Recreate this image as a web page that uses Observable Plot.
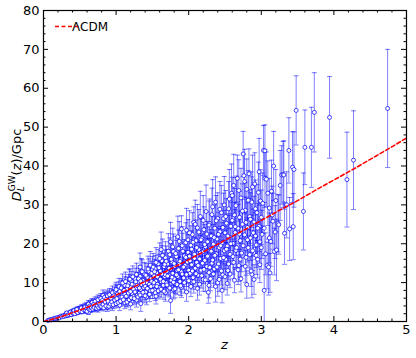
<!DOCTYPE html>
<html><head><meta charset="utf-8">
<script src="https://cdn.jsdelivr.net/npm/d3@7"></script>
<script src="https://cdn.jsdelivr.net/npm/@observablehq/plot@0.6"></script>
<style>body{margin:0;background:#fff;} #chart{width:416px;height:358px;}</style>
</head><body><div id="chart"></div>
<script>
// ΛCDM curve
const lcdmZ = [0,0.1,0.25,0.5,0.75,1,1.25,1.5,1.75,2,2.25,2.5,2.75,3,3.25,3.5,3.75,4,4.25,4.5,4.75,5];
const lcdmD = [0,0.46,1.32,2.92,4.76,6.79,8.95,11.2,13.5,15.9,18.4,20.9,23.4,26.0,28.6,31.1,33.8,36.4,39.0,41.7,44.4,47.2];
// simulated GW events: [z, D_L (Gpc), sigma (Gpc)]
const gwEvents = [
[0.06,0.28,0.05],[0.08,0.4,0.07],[0.1,0.5,0.08],[0.11,0.42,0.08],[0.13,0.66,0.12],[0.15,0.7,0.12],[0.16,0.85,0.15],[0.18,0.78,0.14],[0.19,1.0,0.18],[0.21,1.05,0.2],[0.22,0.95,0.18],[0.24,1.4,0.25],[0.25,1.2,0.22],[0.27,1.5,0.28],[0.28,1.3,0.25],[0.3,1.75,0.32],[0.31,1.45,0.3],[0.32,1.9,0.35],[0.34,1.6,0.3],[0.35,2.1,0.4],[0.36,1.7,0.35],[0.38,2.3,0.45],[0.39,1.9,0.4],[0.4,2.6,0.5],[0.41,2.0,0.4],[0.43,2.4,0.5],[0.44,2.9,0.55],[0.45,2.2,0.45],[0.47,2.7,0.55],[0.48,3.2,0.6],[0.49,2.5,0.5],
[0.5,3.3,0.6],[0.51,2.6,0.5],[0.52,3.0,0.6],[0.53,3.6,0.7],[0.54,2.8,0.55],[0.55,3.4,0.7],[0.56,2.9,0.6],[0.57,3.9,0.8],[0.58,3.2,0.65],[0.59,3.6,0.7],[0.6,4.1,0.8],[0.61,3.0,0.6],[0.62,3.5,0.7],[0.63,4.3,0.9],[0.64,3.3,0.7],[0.65,3.9,0.8],[0.66,4.6,1.0],[0.67,3.6,0.75],[0.68,4.2,0.9],[0.69,3.4,0.7],[0.7,4.8,1.0],[0.71,4.0,0.85],[0.72,3.7,0.8],[0.73,4.5,0.95],[0.74,5.2,1.1],[0.75,4.1,0.9],[0.76,4.8,1.0],[0.77,3.9,0.85],[0.78,5.5,1.2],[0.79,4.5,1.0],[0.8,5.0,1.1],[0.81,4.2,0.9],[0.82,5.8,1.3],[0.83,4.7,1.0],[0.84,5.3,1.2],[0.85,4.4,1.0],[0.86,6.1,1.4],[0.87,5.0,1.1],[0.88,5.6,1.2],[0.89,4.6,1.0],[0.9,6.4,1.4],[0.91,5.3,1.2],[0.92,5.9,1.3],[0.93,4.9,1.1],[0.94,6.8,1.5],[0.95,5.6,1.3],[0.96,6.2,1.4],[0.97,5.1,1.2],[0.98,7.2,1.6],[0.99,6.0,1.4],
[0.62,2.4,0.6],[0.75,3.2,0.8],[0.88,3.7,1.1],[0.95,4.0,1.2],[0.82,6.7,1.4],
[1.0,6.5,1.5],[1.01,7.6,1.7],[1.02,5.4,1.3],[1.03,6.9,1.6],[1.04,8.3,1.9],[1.05,6.1,1.4],[1.06,7.4,1.7],[1.07,5.7,1.4],[1.08,8.9,2.1],[1.09,6.7,1.6],[1.1,7.9,1.8],[1.11,6.2,1.5],[1.12,9.3,2.2],[1.13,7.1,1.7],[1.14,5.3,1.4],[1.15,8.4,2.0],[1.16,6.6,1.6],[1.17,9.8,2.3],[1.18,7.6,1.8],[1.19,6.0,1.5],[1.2,8.8,2.1],[1.21,10.4,2.5],[1.22,7.2,1.8],[1.23,8.1,2.0],[1.24,6.4,1.6],[1.25,9.6,2.3],[1.26,11.0,2.7],[1.27,7.7,1.9],[1.28,8.6,2.1],[1.29,6.8,1.7],[1.3,10.1,2.5],[1.31,9.0,2.2],[1.32,7.3,1.8],[1.33,11.6,2.8],[1.34,8.2,2.0],[1.35,9.5,2.3],[1.36,6.9,1.8],[1.37,10.6,2.6],[1.38,8.7,2.2],[1.39,12.2,3.0],[1.4,9.1,2.3],[1.41,7.6,1.9],[1.42,10.0,2.5],[1.43,11.4,2.8],[1.44,8.4,2.1],[1.45,12.9,3.2],[1.46,9.6,2.4],[1.47,7.9,2.0],[1.48,11.0,2.7],[1.49,10.3,2.6],[1.5,13.4,3.3],
[1.05,4.2,1.4],[1.18,10.9,2.6],[1.28,5.5,1.8],[1.35,13.0,3.2],[1.42,6.3,2.0],[1.12,4.8,1.5],[1.47,14.5,3.5],[1.33,14.0,3.6],[1.2,4.5,1.5],[1.34,4.6,2.0],
[1.51,9.2,2.3],[1.52,11.8,3.0],[1.53,8.1,2.1],[1.54,13.6,3.4],[1.55,10.4,2.6],[1.56,12.5,3.1],[1.57,9.6,2.4],[1.58,14.8,3.7],[1.59,11.1,2.8],[1.6,8.7,2.3],[1.61,13.0,3.3],[1.62,10.2,2.6],[1.63,15.6,3.9],[1.64,12.0,3.0],[1.65,9.3,2.4],[1.66,14.1,3.5],[1.67,11.5,2.9],[1.68,16.4,4.1],[1.69,10.0,2.6],[1.7,12.9,3.2],[1.71,14.8,3.7],[1.72,9.0,2.4],[1.73,11.9,3.0],[1.74,17.2,4.3],[1.75,13.5,3.4],[1.76,10.6,2.7],[1.77,15.3,3.8],[1.78,12.4,3.1],[1.79,18.0,4.5],[1.8,11.0,2.8],[1.81,14.2,3.6],[1.82,9.7,2.5],[1.83,16.7,4.2],[1.84,13.1,3.3],[1.85,11.6,3.0],[1.86,18.8,4.7],[1.87,14.7,3.7],[1.88,10.3,2.7],[1.89,15.9,4.0],[1.9,12.8,3.2],[1.91,19.5,4.9],[1.92,13.8,3.5],[1.93,11.2,2.9],[1.94,16.9,4.2],[1.95,14.5,3.7],[1.96,20.3,5.1],[1.97,12.1,3.1],[1.98,15.3,3.9],[1.99,17.8,4.5],[2.0,13.2,3.4],
[1.55,6.5,2.0],[1.68,7.4,2.2],[1.79,8.2,2.4],[1.9,8.8,2.6],[1.62,18.5,4.5],[1.75,20.5,5.0],[1.85,21.8,5.3],[1.97,23.5,5.6],[1.75,5.4,3.3],[1.9,23.8,3.4],
[2.01,16.8,4.3],[2.02,12.4,3.3],[2.03,19.6,5.0],[2.04,14.6,3.8],[2.05,22.4,5.6],[2.06,11.3,3.0],[2.07,25.5,4.0],[2.08,17.3,4.4],[2.09,13.7,3.6],[2.1,20.8,5.3],[2.11,15.2,3.9],[2.12,24.1,6.0],[2.13,11.9,3.2],[2.14,18.5,4.7],[2.15,16.1,4.2],[2.16,27.0,6.5],[2.17,13.2,3.5],[2.18,21.4,5.4],[2.19,17.9,4.6],[2.2,10.8,3.0],[2.21,23.6,5.9],[2.22,15.7,4.1],[2.23,19.2,4.9],[2.24,28.3,6.8],[2.25,14.1,3.8],[2.26,20.5,5.2],[2.27,17.0,4.4],[2.28,12.6,3.4],[2.29,25.2,6.3],[2.3,18.8,4.8],[2.31,22.0,5.6],[2.32,15.0,4.0],[2.33,29.5,7.0],[2.34,19.9,5.1],[2.35,13.5,3.7],[2.36,24.0,6.0],[2.37,30.7,6.5],[2.38,17.4,4.6],[2.39,21.2,5.4],[2.4,26.5,6.6],[2.41,14.8,4.0],[2.42,19.0,4.9],[2.43,23.1,5.9],[2.44,16.2,4.3],[2.45,28.0,7.0],[2.46,20.2,5.2],[2.47,12.0,3.4],[2.48,26.5,6.5],[2.49,18.2,4.7],[2.5,22.8,5.8],
[2.12,8.5,3.0],[2.28,9.3,3.2],[2.4,10.0,3.5],[2.46,8.0,3.2],[2.37,9.0,4.0],
[2.51,16.0,4.3],[2.52,25.3,6.3],[2.53,19.4,5.0],[2.54,13.1,3.7],[2.55,29.0,7.0],[2.56,21.7,5.6],[2.57,17.3,4.6],[2.58,24.5,6.2],[2.59,33.0,7.5],[2.6,32.4,4.7],[2.61,20.1,5.3],[2.62,15.2,4.2],[2.63,27.4,6.8],[2.64,22.9,5.9],[2.65,18.3,4.9],[2.66,30.1,7.3],[2.67,36.8,6.0],[2.68,24.0,6.1],[2.69,14.4,4.1],[2.7,26.8,6.7],[2.71,20.8,5.5],[2.72,31.8,7.6],[2.73,17.6,4.8],[2.74,25.0,6.4],[2.75,43.1,5.8],[2.76,37.5,5.5],[2.77,22.3,5.9],[2.78,28.6,7.1],[2.79,16.5,4.6],[2.8,34.0,7.8],[2.81,24.2,6.3],[2.82,19.0,5.2],[2.83,38.0,6.4],[2.84,27.0,6.9],[2.85,21.5,5.8],[2.86,31.0,7.5],[2.87,30.7,6.5],[2.87,12.1,6.0],[2.88,18.2,5.1],[2.9,25.6,6.6],[2.91,35.4,8.0],[2.92,22.0,6.0],[2.93,19.7,5.8],[2.94,28.0,7.2],[2.95,16.0,4.8],[2.96,33.2,7.8],[2.97,24.5,6.5],[2.98,20.5,5.6],[2.99,31.0,8.0],[3.0,26.8,7.0],
[3.01,22.4,6.2],[3.03,44.0,6.4],[3.04,8.0,9.0],[3.05,36.8,7.5],[3.05,43.9,6.7],[3.07,36.6,7.0],[3.08,14.4,6.0],[3.1,14.0,7.2],[3.11,29.2,7.6],[3.13,20.6,6.4],[3.14,33.5,8.0],[3.16,25.8,7.2],[3.18,18.0,6.0],[3.2,31.1,8.0],[3.21,18.4,7.9],[3.23,25.3,7.4],[3.24,24.9,7.6],[3.26,35.0,9.0],[3.28,37.7,7.5],[3.3,37.8,8.5],[3.31,37.7,8.8],[3.32,22.7,8.0],[3.35,30.0,8.5],
[3.38,44.0,8.4],[3.39,23.8,8.1],[3.43,39.7,9.1],[3.44,24.4,8.5],[3.45,39.1,9.7],[3.48,54.3,8.9],[3.58,28.3,9.9],[3.6,44.8,9.6],[3.69,44.8,10.3],[3.73,53.8,10.2],[3.94,52.5,10.5],[4.18,36.5,12.2],[4.27,41.5,12.7],[4.74,54.8,15.2]
];
// further events in the crowded band 0.3 < z < 3.2
const gwEventsDense = [
[0.3,1.5,0.3],[0.32,2.2,0.4],[0.33,1.6,0.3],[0.35,1.8,0.35],[0.37,2.4,0.5],[0.38,1.8,0.35],[0.4,2.2,0.45],[0.42,2.8,0.55],[0.43,2.0,0.4],[0.45,2.6,0.5],[0.46,3.1,0.6],[0.47,2.3,0.45],[0.5,2.7,0.55],[0.52,3.5,0.7],[0.53,2.5,0.5],[0.55,3.1,0.6],[0.57,3.7,0.75],[0.58,2.8,0.6],[0.6,3.4,0.7],[0.6,2.6,0.55],
[0.61,3.8,0.8],[0.62,4.5,0.9],[0.63,3.1,0.65],[0.64,4.0,0.85],[0.65,3.0,0.7],[0.66,3.5,0.75],[0.67,4.9,1.0],[0.68,3.2,0.7],[0.69,4.4,0.95],[0.7,3.6,0.8],[0.71,5.2,1.1],[0.72,4.3,0.9],[0.73,3.4,0.75],[0.74,4.0,0.9],[0.75,5.6,1.2],[0.76,3.6,0.8],[0.77,4.6,1.0],[0.78,4.0,0.9],[0.79,5.9,1.3],[0.8,3.8,0.85],[0.81,5.4,1.2],[0.82,4.4,1.0],[0.83,3.5,0.8],[0.84,6.2,1.4],[0.85,5.0,1.1],[0.86,4.0,0.9],[0.87,5.8,1.3],[0.88,6.6,1.5],[0.89,5.2,1.2],[0.9,3.9,0.9],[0.91,6.9,1.6],[0.92,4.5,1.0],[0.93,6.0,1.4],[0.94,5.0,1.2],[0.95,7.4,1.7],[0.96,4.3,1.0],[0.97,6.6,1.5],[0.98,5.5,1.3],[0.99,7.8,1.8],[1.0,4.6,1.1],
[1.0,8.2,1.9],[1.01,5.9,1.4],[1.02,7.1,1.7],[1.03,4.9,1.2],[1.04,9.0,2.1],[1.05,7.7,1.8],[1.06,5.2,1.3],[1.07,8.6,2.0],[1.08,6.3,1.5],[1.09,9.9,2.3],[1.1,5.6,1.4],[1.11,8.0,1.9],[1.12,7.0,1.7],[1.13,10.3,2.4],[1.14,6.5,1.6],[1.15,5.0,1.3],[1.16,9.2,2.2],[1.17,7.3,1.8],[1.18,5.6,1.5],[1.19,10.9,2.6],[1.2,7.7,1.9],[1.21,6.1,1.6],[1.22,9.6,2.3],[1.23,11.5,2.8],[1.24,8.3,2.0],[1.25,5.9,1.6],[1.26,7.6,1.9],[1.27,10.2,2.5],[1.28,12.1,2.9],[1.29,9.3,2.3],[1.3,6.3,1.7],[1.31,11.0,2.7],[1.32,8.6,2.1],[1.33,6.8,1.8],[1.34,10.4,2.6],[1.36,12.8,3.1],[1.37,7.5,2.0],[1.38,9.9,2.5],[1.4,6.6,1.8],[1.41,11.9,3.0],[1.43,8.5,2.2],[1.44,13.5,3.3],[1.46,7.0,1.9],[1.48,9.0,2.3],[1.49,12.4,3.1],
[1.5,8.0,2.1],[1.51,14.0,3.5],[1.52,10.0,2.6],[1.53,12.8,3.2],[1.54,7.4,2.0],[1.55,15.2,3.8],[1.56,9.0,2.4],[1.57,11.5,2.9],[1.58,7.9,2.1],[1.59,13.8,3.5],[1.6,16.2,4.0],[1.61,10.9,2.8],[1.62,8.3,2.2],[1.63,12.2,3.1],[1.64,17.0,4.2],[1.65,10.3,2.7],[1.66,7.8,2.1],[1.67,14.7,3.7],[1.68,12.0,3.1],[1.69,15.5,3.9],[1.7,9.4,2.5],[1.71,11.7,3.0],[1.72,18.1,4.5],[1.73,13.7,3.5],[1.74,8.6,2.3],[1.76,16.0,4.0],[1.77,11.4,2.9],[1.78,19.2,4.8],[1.79,10.1,2.7],[1.8,14.9,3.8],[1.81,8.4,2.3],[1.82,17.5,4.4],[1.83,12.0,3.1],[1.84,9.5,2.6],[1.86,13.3,3.4],[1.87,20.6,5.1],[1.88,15.5,3.9],[1.89,9.2,2.5],[1.91,12.2,3.2],[1.92,18.1,4.6],[1.93,14.0,3.6],[1.94,10.0,2.7],[1.96,16.5,4.2],[1.97,7.6,2.4],[1.99,21.0,5.2],
[2.0,10.5,2.9],[2.01,22.8,5.7],[2.02,15.6,4.0],[2.03,9.0,2.6],[2.04,18.6,4.7],[2.05,13.0,3.5],[2.06,20.4,5.2],[2.07,10.2,2.9],[2.08,16.2,4.2],[2.09,25.0,6.2],[2.1,12.3,3.3],[2.11,19.0,4.9],[2.13,14.4,3.8],[2.14,23.0,5.8],[2.15,9.6,2.8],[2.16,17.6,4.5],[2.17,21.0,5.3],[2.18,11.8,3.2],[2.19,15.0,4.0],[2.2,26.0,6.4],[2.21,13.4,3.6],[2.22,19.8,5.1],[2.23,10.7,3.0],[2.25,22.5,5.7],[2.26,16.8,4.4],[2.27,7.5,2.8],[2.28,24.8,6.2],[2.29,13.9,3.8],[2.3,11.0,3.1],[2.31,18.1,4.7],[2.32,27.5,6.8],[2.33,15.8,4.2],[2.34,12.2,3.4],[2.35,21.6,5.5],[2.36,17.0,4.5],[2.38,25.9,6.5],[2.39,14.0,3.8],[2.41,22.4,5.7],[2.42,10.8,3.1],[2.43,28.9,7.1],[2.44,19.5,5.0],[2.45,13.0,3.6],[2.47,24.2,6.1],[2.48,16.4,4.4],[2.49,30.0,7.3],
[2.5,11.5,3.3],[2.51,27.0,6.7],[2.52,18.6,4.9],[2.53,9.8,3.0],[2.54,22.0,5.7],[2.55,14.8,4.1],[2.56,31.5,7.6],[2.57,12.2,3.5],[2.58,20.0,5.3],[2.6,26.0,6.5],[2.61,16.7,4.5],[2.62,35.0,8.0],[2.63,10.6,3.2],[2.64,24.4,6.2],[2.65,29.8,7.2],[2.66,19.0,5.1],[2.68,13.3,3.8],[2.69,33.7,7.9],[2.7,22.5,5.9],[2.71,16.0,4.5],[2.72,11.0,3.4],[2.74,28.4,7.0],[2.75,19.5,5.3],[2.77,36.0,8.3],[2.78,14.2,4.1],[2.79,25.5,6.5],[2.8,9.5,3.5],[2.81,21.0,5.7],[2.82,31.2,7.6],[2.84,17.2,4.8],[2.85,26.3,6.8],[2.86,13.0,4.0],[2.88,34.6,8.2],[2.89,22.8,6.1],[2.9,10.8,3.8],[2.92,29.0,7.4],[2.93,17.0,4.9],[2.95,24.0,6.4],[2.97,38.5,8.6],[2.98,14.6,4.6],
[3.0,19.0,5.6],[3.02,30.4,7.8],[3.04,24.0,6.6],[3.06,17.4,5.4],[3.09,33.0,8.3],[3.11,21.5,6.4],[3.12,12.5,5.0],[3.15,27.4,7.4],[3.17,40.0,8.9],[3.19,23.0,6.8]
];
const xTickValues = [0,1,2,3,4,5];
const yTickValues = [0,10,20,30,40,50,60,70,80];
const xMinorValues = [0.2,0.4,0.6,0.8,1.2,1.4,1.6,1.8,2.2,2.4,2.6,2.8,3.2,3.4,3.6,3.8,4.2,4.4,4.6,4.8];
const yMinorValues = [2,4,6,8,12,14,16,18,22,24,26,28,32,34,36,38,42,44,46,48,52,54,56,58,62,64,66,68,72,74,76,78];
const legendLabel = "ΛCDM";

const lcdm = lcdmZ.map((z,i)=>({z, d: lcdmD[i]}));
const events = gwEvents.concat(gwEventsDense).map(([z,d,e])=>({z, d, lo: d-e, hi: d+e}));

const W=416, H=358, mL=43, mR=10, mT=10, mB=37;
const fh = H-mT-mB, fw = W-mL-mR;
const blue = "#0000ff";
const capSymbol = {draw(ctx,size){const w=Math.sqrt(size/Math.PI); ctx.moveTo(-w,0); ctx.lineTo(w,0);}};
const barStyle = {stroke: blue, strokeOpacity: 0.5, strokeWidth: 1, clip: true};

const plot = Plot.plot({
  width: W, height: H, marginLeft: mL, marginRight: mR, marginTop: mT, marginBottom: mB,
  x: {domain: [0,5], label: null},
  y: {domain: [0,80], label: null},
  style: {fontFamily: "DejaVu Sans", fontSize: "13px", color: "black", background: "white"},
  marks: [
    Plot.ruleX(events, {x: "z", y1: "lo", y2: "hi", ...barStyle}),
    Plot.dot(events, {x: "z", y: "lo", symbol: capSymbol, r: 2.5, fill: "none", ...barStyle}),
    Plot.dot(events, {x: "z", y: "hi", symbol: capSymbol, r: 2.5, fill: "none", ...barStyle}),
    Plot.dot(events, {x: "z", y: "d", r: 2, fill: "white", stroke: blue, strokeOpacity: 0.8, strokeWidth: 0.9}),
    Plot.line(lcdm, {x: "z", y: "d", stroke: "#ff0000", strokeWidth: 1.6, strokeDasharray: "4,2.5", curve: "monotone-x", clip: true}),
    Plot.frame({stroke: "black", strokeWidth: 1.2}),
    Plot.ruleX(xTickValues, {x: d=>d, insetTop: fh-5, stroke: "black"}),
    Plot.ruleX(xTickValues, {x: d=>d, insetBottom: fh-5, stroke: "black"}),
    Plot.ruleX(xMinorValues, {x: d=>d, insetTop: fh-2.5, stroke: "black"}),
    Plot.ruleX(xMinorValues, {x: d=>d, insetBottom: fh-2.5, stroke: "black"}),
    Plot.ruleY(yTickValues, {y: d=>d, insetRight: fw-5, stroke: "black"}),
    Plot.ruleY(yTickValues, {y: d=>d, insetLeft: fw-5, stroke: "black"}),
    Plot.ruleY(yMinorValues, {y: d=>d, insetRight: fw-2.5, stroke: "black"}),
    Plot.ruleY(yMinorValues, {y: d=>d, insetLeft: fw-2.5, stroke: "black"}),
    Plot.axisX(xTickValues, {anchor: "bottom", tickSize: 0, tickPadding: 3, label: null, fontSize: 13}),
    Plot.axisY(yTickValues, {anchor: "left", tickSize: 0, tickPadding: 4, label: null, fontSize: 13})
  ]
});
document.getElementById("chart").appendChild(plot);

const svg = d3.select(plot);
// x label
svg.append("text").attr("x", mL + fw/2).attr("y", 349)
  .attr("text-anchor","middle").attr("font-style","italic").attr("font-size",13).attr("fill","black").text("z");
// y label with sub/superscript
const yl = svg.append("text").attr("transform","translate(21,165) rotate(-90)")
  .attr("text-anchor","middle").attr("font-size",13).attr("fill","black");
yl.append("tspan").attr("font-style","italic").text("D");
const sub = yl.append("tspan").attr("font-style","italic").attr("font-size",9).attr("dy",3).text("L");
const subW = sub.node().getComputedTextLength();
yl.append("tspan").attr("font-size",9).attr("dx",-subW).attr("dy",-9).text("GW");
yl.append("tspan").attr("dy",6).text("(");
yl.append("tspan").attr("font-style","italic").text("z");
yl.append("tspan").text(")/Gpc");
// legend
svg.append("line").attr("x1",55).attr("x2",80).attr("y1",26.5).attr("y2",26.5)
  .attr("stroke","#ff0000").attr("stroke-width",1.6).attr("stroke-dasharray","4,2.5");
svg.append("text").attr("x",90).attr("y",26.5).attr("dy","0.35em").attr("font-size",12).attr("fill","black").text(legendLabel);
</script>
</body></html>
